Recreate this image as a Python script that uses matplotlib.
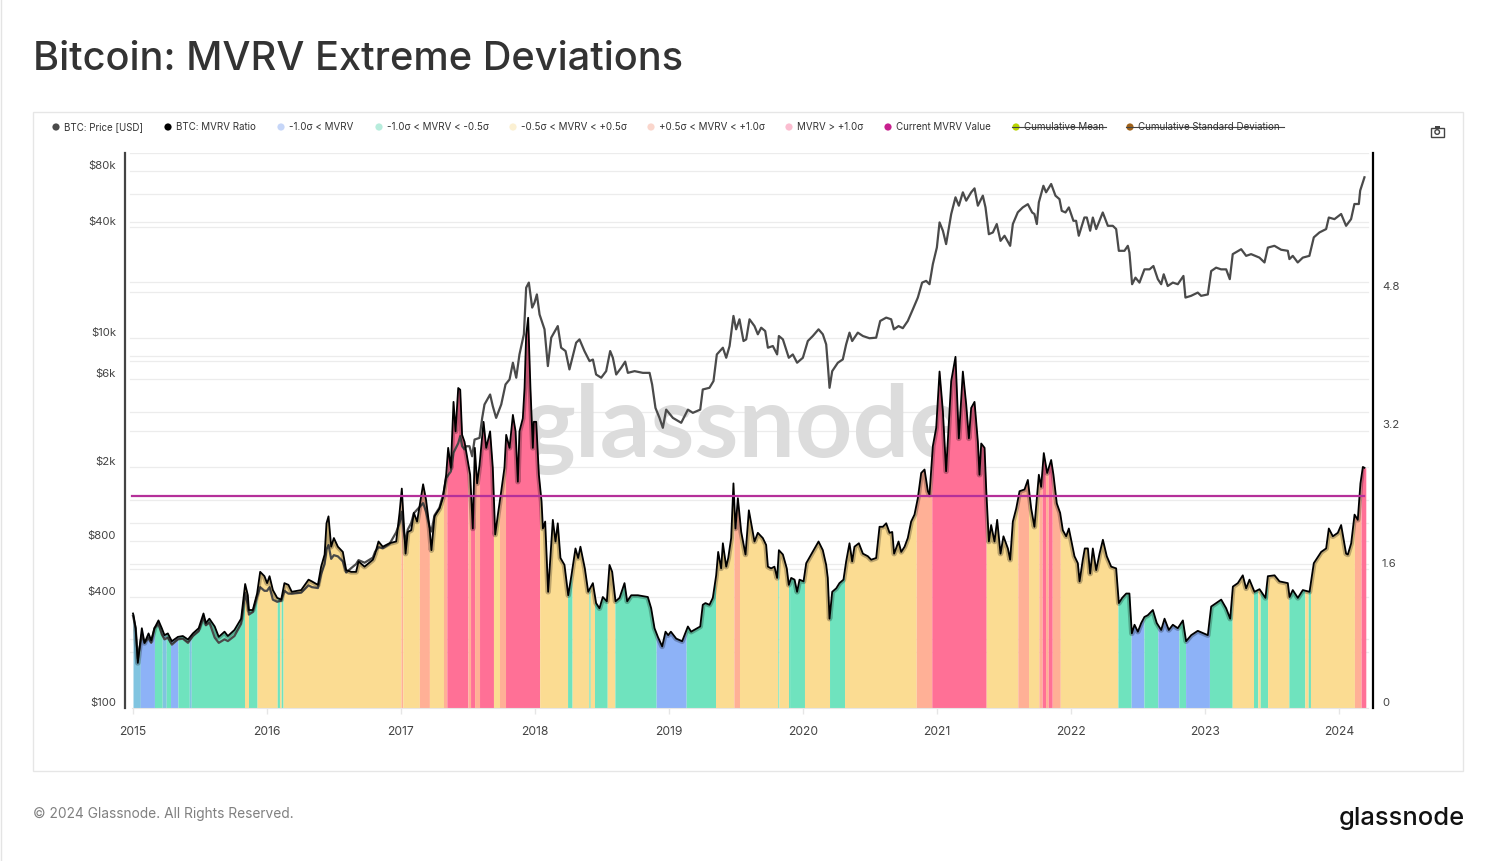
import numpy as np
import matplotlib
matplotlib.use('Agg')
import matplotlib.pyplot as plt
from matplotlib.patches import Rectangle, Circle, Polygon

plt.rcParams['font.family'] = ['Inter', 'DejaVu Sans']

W, H = 1495, 861

# MVRV ratio (decimal year, value)
mvrv_t = [2015.0, 2015.004, 2015.02, 2015.036, 2015.066, 2015.086, 2015.116, 2015.136, 2015.16, 2015.19, 2015.215, 2015.235, 2015.26, 2015.29, 2015.335, 2015.372, 2015.41, 2015.447, 2015.49, 2015.526, 2015.544, 2015.57, 2015.61, 2015.64, 2015.683, 2015.708, 2015.757, 2015.807, 2015.837, 2015.857, 2015.865, 2015.894, 2015.926, 2015.949, 2015.981, 2016.001, 2016.019, 2016.044, 2016.076, 2016.106, 2016.13, 2016.16, 2016.185, 2016.255, 2016.31, 2016.335, 2016.38, 2016.404, 2016.43, 2016.444, 2016.459, 2016.479, 2016.499, 2016.529, 2016.566, 2016.591, 2016.628, 2016.665, 2016.683, 2016.728, 2016.79, 2016.807, 2016.832, 2016.864, 2016.914, 2016.964, 2016.989, 2017.006, 2017.021, 2017.034, 2017.05, 2017.076, 2017.096, 2017.12, 2017.165, 2017.187, 2017.212, 2017.227, 2017.25, 2017.287,
          2017.312, 2017.337, 2017.352, 2017.372, 2017.392, 2017.407, 2017.427, 2017.442, 2017.456, 2017.474, 2017.499, 2017.516, 2017.536, 2017.551, 2017.568, 2017.586, 2017.616, 2017.636, 2017.665, 2017.685, 2017.703, 2017.723, 2017.748, 2017.772, 2017.785, 2017.81, 2017.835, 2017.855, 2017.872, 2017.884, 2017.909, 2017.922, 2017.934, 2017.949, 2017.966, 2017.984, 2017.991, 2018.009, 2018.029, 2018.049, 2018.059, 2018.076, 2018.098, 2018.113, 2018.133, 2018.153, 2018.17, 2018.19, 2018.22, 2018.248, 2018.272, 2018.302, 2018.322, 2018.339, 2018.372, 2018.397, 2018.432, 2018.456, 2018.481, 2018.506, 2018.536, 2018.556, 2018.576, 2018.601, 2018.631, 2018.668, 2018.688, 2018.718, 2018.768, 2018.842, 2018.867, 2018.892, 2018.917, 2018.949, 2018.974, 2018.994, 2019.014, 2019.054, 2019.098, 2019.141, 2019.165, 2019.233, 2019.252, 2019.272, 2019.302, 2019.327, 2019.352, 2019.367, 2019.389, 2019.402, 2019.427, 2019.442, 2019.464, 2019.481, 2019.496, 2019.514, 2019.539, 2019.571, 2019.596,
          2019.626, 2019.638, 2019.663, 2019.7, 2019.725, 2019.738, 2019.762, 2019.787, 2019.807, 2019.82, 2019.85, 2019.879, 2019.894, 2019.912, 2019.937, 2019.956, 2019.974, 2020.004, 2020.024, 2020.061, 2020.086, 2020.116, 2020.148, 2020.173, 2020.185, 2020.198, 2020.218, 2020.248, 2020.272, 2020.302, 2020.322, 2020.347, 2020.367, 2020.384, 2020.417, 2020.447, 2020.484, 2020.509, 2020.546, 2020.571, 2020.596, 2020.621, 2020.646, 2020.666, 2020.68, 2020.713, 2020.733, 2020.758, 2020.782, 2020.807, 2020.832, 2020.857, 2020.882, 2020.907, 2020.932, 2020.944, 2020.969, 2020.994, 2021.019, 2021.044, 2021.068, 2021.106, 2021.138, 2021.163, 2021.193, 2021.218, 2021.238, 2021.255, 2021.28, 2021.305, 2021.317, 2021.33, 2021.355, 2021.367, 2021.387, 2021.404, 2021.429, 2021.449, 2021.474, 2021.496, 2021.529, 2021.546, 2021.566, 2021.591, 2021.616, 2021.653, 2021.678, 2021.703, 2021.727, 2021.76,
          2021.777, 2021.797, 2021.822, 2021.852, 2021.869, 2021.894, 2021.919, 2021.939, 2021.964, 2021.984, 2022.004, 2022.026, 2022.051, 2022.064, 2022.088, 2022.103, 2022.126, 2022.143, 2022.163, 2022.188, 2022.213, 2022.238, 2022.267, 2022.3, 2022.337, 2022.357, 2022.382, 2022.412, 2022.436, 2022.454, 2022.474, 2022.499, 2022.524, 2022.548, 2022.573, 2022.611, 2022.64, 2022.673, 2022.698, 2022.73, 2022.76, 2022.797, 2022.835, 2022.859, 2022.897, 2022.946, 2023.021, 2023.046, 2023.083, 2023.121, 2023.158, 2023.188, 2023.208, 2023.245, 2023.282, 2023.307, 2023.332, 2023.369, 2023.407, 2023.451, 2023.469, 2023.519, 2023.556, 2023.618, 2023.631, 2023.655, 2023.693, 2023.73, 2023.78, 2023.812, 2023.867, 2023.904, 2023.924, 2023.954, 2023.991, 2024.016, 2024.053, 2024.066, 2024.091, 2024.116, 2024.14, 2024.16, 2024.178, 2024.19]
mvrv_v = [1.09, 1.07, 0.92, 0.52, 0.92, 0.75, 0.86, 0.78, 0.92, 1.01, 0.92, 0.84, 0.86, 0.77, 0.82, 0.83, 0.79, 0.86, 0.92, 1.09, 0.98, 1.03, 0.94, 0.82, 0.88, 0.83, 0.90, 1.03, 1.43, 1.30, 1.13, 1.13, 1.32, 1.57, 1.52, 1.44, 1.52, 1.36, 1.27, 1.25, 1.44, 1.42, 1.34, 1.36, 1.48, 1.46, 1.42, 1.63, 1.77, 2.13, 2.21, 1.86, 1.96, 1.86, 1.80, 1.59, 1.57, 1.57, 1.69, 1.63, 1.71, 1.78, 1.92, 1.86, 1.90, 1.92, 2.25, 2.53, 2.13, 1.78, 2.03, 2.05, 2.25, 2.15, 2.58, 2.40, 2.09, 1.82, 2.21, 2.30,
          2.42, 2.69, 3.00, 2.77, 3.53, 3.19, 3.69, 3.67, 3.15, 3.07, 2.84, 2.69, 2.07, 3.00, 2.59, 2.80, 3.30, 3.00, 3.19, 2.77, 2.00, 2.23, 2.50, 2.77, 3.15, 3.00, 3.38, 3.19, 2.61, 3.19, 3.34, 3.69, 4.30, 4.50, 3.69, 3.00, 3.30, 3.30, 2.69, 2.38, 2.07, 2.15, 1.34, 1.69, 2.17, 1.92, 2.13, 1.73, 1.65, 1.30, 1.53, 1.84, 1.73, 1.86, 1.61, 1.34, 1.44, 1.21, 1.15, 1.28, 1.23, 1.65, 1.57, 1.23, 1.27, 1.44, 1.23, 1.30, 1.30, 1.28, 1.15, 0.92, 0.82, 0.71, 0.88, 0.84, 0.88, 0.80, 0.77, 0.94, 0.88, 0.94, 1.19, 1.21, 1.19, 1.27, 1.53, 1.80, 1.61, 1.90, 1.63, 1.73, 1.96, 2.59, 2.07, 2.42, 2.03, 1.77, 2.28,
          2.02, 1.92, 2.02, 1.96, 1.88, 1.63, 1.61, 1.63, 1.50, 1.82, 1.77, 1.61, 1.42, 1.50, 1.48, 1.34, 1.48, 1.46, 1.67, 1.77, 1.84, 1.92, 1.82, 1.65, 1.50, 1.03, 1.34, 1.38, 1.44, 1.48, 1.69, 1.90, 1.69, 1.86, 1.90, 1.78, 1.75, 1.71, 1.73, 2.09, 2.09, 2.13, 2.02, 2.03, 1.78, 1.92, 1.80, 1.86, 1.96, 2.15, 2.23, 2.42, 2.71, 2.75, 2.50, 2.46, 3.02, 3.23, 3.88, 3.42, 2.73, 3.77, 4.05, 3.11, 3.88, 3.50, 3.11, 3.46, 3.53, 3.07, 2.69, 3.05, 3.00, 2.53, 1.92, 2.11, 1.92, 2.17, 1.78, 1.98, 1.84, 1.71, 2.15, 2.30, 2.50, 2.52, 2.63, 2.30, 2.09, 2.69,
          2.55, 2.94, 2.71, 2.86, 2.69, 2.36, 2.25, 2.05, 1.98, 2.07, 1.92, 1.75, 1.67, 1.46, 1.71, 1.84, 1.84, 1.55, 1.84, 1.59, 1.78, 1.94, 1.75, 1.63, 1.61, 1.21, 1.27, 1.32, 1.32, 0.86, 0.96, 0.88, 0.98, 1.05, 1.07, 1.13, 0.98, 0.90, 1.03, 0.90, 0.96, 0.92, 1.01, 0.77, 0.84, 0.89, 0.84, 1.17, 1.21, 1.25, 1.15, 1.03, 1.40, 1.44, 1.53, 1.38, 1.48, 1.34, 1.37, 1.27, 1.52, 1.53, 1.46, 1.44, 1.28, 1.36, 1.27, 1.36, 1.34, 1.67, 1.80, 1.84, 2.07, 1.98, 2.02, 2.11, 1.78, 1.77, 1.90, 2.23, 2.17, 2.59, 2.78, 2.77]

# BTC price in USD
price_t = [2015.0, 2015.02, 2015.036, 2015.066, 2015.086, 2015.116, 2015.136, 2015.16, 2015.19, 2015.215, 2015.235, 2015.26, 2015.29, 2015.335, 2015.372, 2015.41, 2015.447, 2015.49, 2015.526, 2015.544, 2015.57, 2015.61, 2015.64, 2015.683, 2015.708, 2015.757, 2015.807, 2015.837, 2015.857, 2015.865, 2015.894, 2015.926, 2015.949, 2015.981, 2016.0, 2016.019, 2016.044, 2016.076, 2016.106, 2016.13, 2016.16, 2016.185, 2016.255, 2016.31, 2016.335, 2016.38, 2016.404, 2016.43, 2016.444, 2016.459, 2016.479, 2016.499, 2016.529, 2016.566, 2016.591, 2016.628, 2016.665, 2016.683, 2016.728, 2016.79, 2016.807, 2016.832, 2016.864, 2016.914, 2016.964, 2016.989, 2017.006, 2017.021, 2017.034, 2017.05, 2017.076, 2017.096, 2017.12, 2017.165, 2017.187, 2017.212, 2017.227, 2017.25, 2017.287, 2017.317, 2017.337, 2017.372, 2017.392, 2017.427, 2017.442, 2017.456, 2017.474,
           2017.486, 2017.511, 2017.531, 2017.549, 2017.586, 2017.606, 2017.623, 2017.665, 2017.685, 2017.71, 2017.748, 2017.78, 2017.81, 2017.835, 2017.86, 2017.884, 2017.917, 2017.934, 2017.954, 2017.979, 2017.996, 2018.014, 2018.034, 2018.071, 2018.096, 2018.121, 2018.17, 2018.195, 2018.228, 2018.257, 2018.307, 2018.332, 2018.369, 2018.407, 2018.432, 2018.456, 2018.494, 2018.531, 2018.561, 2018.581, 2018.606, 2018.643, 2018.673, 2018.693, 2018.743, 2018.805, 2018.855, 2018.874, 2018.899, 2018.929, 2018.954, 2018.979, 2019.029, 2019.091, 2019.141, 2019.178, 2019.233, 2019.252, 2019.302, 2019.332, 2019.357, 2019.402, 2019.427, 2019.452, 2019.481, 2019.501, 2019.526, 2019.556, 2019.576,
           2019.601, 2019.638, 2019.663, 2019.688, 2019.718, 2019.738, 2019.775, 2019.807, 2019.82, 2019.85, 2019.894, 2019.924, 2019.956, 2019.999, 2020.036, 2020.073, 2020.116, 2020.148, 2020.173, 2020.185, 2020.198, 2020.218, 2020.26, 2020.297, 2020.322, 2020.347, 2020.367, 2020.409, 2020.447, 2020.496, 2020.546, 2020.576, 2020.621, 2020.658, 2020.678, 2020.713, 2020.745, 2020.782, 2020.82, 2020.857, 2020.889, 2020.919, 2020.944, 2020.969, 2020.999, 2021.019, 2021.044, 2021.068, 2021.106, 2021.138, 2021.163, 2021.193, 2021.218, 2021.255, 2021.28, 2021.305, 2021.342, 2021.362, 2021.387, 2021.417, 2021.446, 2021.474, 2021.504, 2021.546, 2021.566, 2021.603, 2021.64, 2021.678, 2021.71, 2021.727, 2021.745,
           2021.76, 2021.794, 2021.814, 2021.852, 2021.884, 2021.914, 2021.931, 2021.959, 2021.984, 2022.018, 2022.038, 2022.058, 2022.1, 2022.118, 2022.143, 2022.163, 2022.188, 2022.237, 2022.275, 2022.312, 2022.337, 2022.357, 2022.399, 2022.424, 2022.436, 2022.456, 2022.481, 2022.511, 2022.548, 2022.586, 2022.615, 2022.648, 2022.673, 2022.692, 2022.722, 2022.76, 2022.797, 2022.839, 2022.854, 2022.896, 2022.946, 2022.971, 2023.021, 2023.046, 2023.083, 2023.12, 2023.158, 2023.185, 2023.207, 2023.27, 2023.307, 2023.344, 2023.406, 2023.444, 2023.469, 2023.518, 2023.568, 2023.618, 2023.63, 2023.655, 2023.692, 2023.73, 2023.779, 2023.812, 2023.854, 2023.904, 2023.924, 2023.966, 2024.016, 2024.053, 2024.09, 2024.115, 2024.148, 2024.158, 2024.178, 2024.19]
price_v = [315, 270, 185, 250, 225, 240, 225, 270, 285, 250, 235, 240, 220, 235, 237, 225, 245, 260, 310, 280, 290, 240, 225, 235, 230, 245, 285, 420, 360, 320, 330, 400, 450, 430, 430, 450, 385, 375, 380, 430, 415, 415, 420, 460, 450, 445, 530, 600, 720, 760, 640, 670, 660, 620, 540, 570, 600, 630, 610, 650, 700, 740, 730, 770, 890, 1000, 1150, 900, 780, 920, 1000, 1130, 1180, 1280, 1150, 960, 900, 1100, 1210, 1450, 1750, 1900, 2400, 2700, 2950, 2600, 2500,
           2600, 2600, 2295, 2825, 2885, 3700, 4370, 4950, 4280, 3700, 4370, 5610, 5970, 7350, 6100, 8150, 10470, 18700, 19930, 14600, 15500, 17200, 13400, 11140, 7050, 10040, 11600, 8860, 8500, 6760, 9430, 9830, 8500, 7500, 7650, 6350, 6100, 6620, 8500, 7820, 6350, 6900, 7450, 6480, 6620, 6480, 6480, 5610, 4190, 3700, 3270, 4100, 3700, 3480, 4100, 3940, 4100, 5270, 5380, 5850, 8150, 8860, 7820, 9050, 13160, 11140, 12620, 9630, 9830,
           12620, 11600, 10470, 11370, 10900, 8860, 9050, 8150, 10250, 9830, 7820, 8150, 7350, 7820, 9630, 10250, 11140, 10470, 9240, 7200, 5380, 6620, 7350, 7660, 9240, 10690, 9630, 10690, 10250, 9970, 10040, 12360, 12890, 12620, 11140, 11600, 11300, 12360, 14300, 16540, 19930, 20360, 19530, 25070, 30860, 42150, 38000, 32180, 46790, 57600, 51900, 61300, 55260, 61300, 64400, 51900, 58800, 50800, 36400, 37200, 41300, 33500, 35700, 31500, 41300, 47800, 50800, 52900, 47700, 46790, 41300,
           54100, 66500, 61300, 68000, 58800, 56300, 48700, 47700, 50800, 43000, 43000, 35700, 44800, 44800, 38000, 44800, 38800, 47700, 40400, 40400, 38800, 29600, 29600, 31500, 29000, 19530, 21200, 19930, 23500, 23500, 24500, 20800, 19530, 22100, 19100, 19930, 19530, 21650, 16540, 16900, 17600, 16900, 17200, 23000, 24000, 23500, 23500, 20800, 28400, 30200, 27800, 28400, 27200, 25600, 30800, 31500, 30000, 29600, 26700, 27800, 25600, 27200, 27800, 35000, 37200, 38800, 44800, 43900, 46800, 40400, 43900, 53000, 53000, 62600, 69400, 73900]

# colour bands under the MVRV line: where each one starts and what it is
band_start = [2015.0, 2015.055, 2015.16, 2015.218, 2015.248, 2015.28, 2015.335, 2015.42, 2015.435, 2015.832, 2015.862, 2015.926, 2016.076, 2016.093, 2016.106, 2016.12, 2017.0, 2017.013, 2017.137, 2017.212, 2017.317, 2017.342, 2017.499, 2017.519, 2017.549, 2017.586, 2017.69, 2017.735, 2017.78, 2018.035, 2018.243, 2018.277, 2018.402, 2018.412, 2018.444, 2018.539, 2018.596, 2018.904, 2019.128, 2019.347, 2019.484, 2019.526, 2019.812, 2019.82, 2019.892, 2019.906, 2020.011, 2020.198, 2020.31, 2020.845, 2020.961, 2021.367, 2021.603, 2021.683, 2021.76, 2021.785, 2021.81, 2021.83, 2021.86, 2021.92, 2022.35, 2022.449, 2022.544, 2022.648, 2022.805, 2022.855, 2023.033, 2023.203, 2023.362, 2023.394, 2023.412, 2023.467, 2023.626, 2023.745, 2023.77, 2023.787, 2024.115, 2024.165]
band_kind = ['sky', 'blue', 'teal', 'sky', 'teal', 'blue', 'teal', 'sky', 'teal', 'yellow', 'teal', 'yellow', 'teal', 'yellow', 'teal', 'yellow', 'orange', 'yellow', 'orange', 'yellow', 'orange', 'pink', 'orange', 'pink', 'orange', 'pink', 'yellow', 'orange', 'pink', 'yellow', 'teal', 'yellow', 'teal', 'yellow', 'teal', 'yellow', 'teal', 'blue', 'teal', 'yellow', 'orange', 'yellow', 'teal', 'yellow', 'teal', 'teal', 'yellow', 'teal', 'yellow', 'orange', 'pink', 'yellow', 'orange', 'yellow', 'orange', 'pink', 'orange', 'pink', 'orange', 'yellow', 'teal', 'blue', 'teal', 'blue', 'teal', 'blue', 'teal', 'yellow', 'teal', 'yellow', 'teal', 'yellow', 'teal', 'yellow', 'teal', 'yellow', 'orange', 'pink']
band_colors = {'sky': '#80C4E0', 'blue': '#8DB2F7', 'teal': '#6FE3BE', 'yellow': '#FBDC92', 'orange': '#FFB096', 'pink': '#FF7096'}

current_mvrv = 2.445
end_year = 2024.2

year_ticks = [2015, 2016, 2017, 2018, 2019, 2020, 2021, 2022, 2023, 2024]
price_labels = {100: '$100', 400: '$400', 800: '$800', 2000: '$2k', 6000: '$6k', 10000: '$10k', 40000: '$40k', 80000: '$80k'}
price_grid = [200, 400, 600, 800, 1000, 2000, 4000, 6000, 8000, 10000, 20000, 40000, 60000, 80000]
mvrv_labels = {0: '0', 1.6: '1.6', 3.2: '3.2', 4.8: '4.8'}
mvrv_grid = [0.8, 1.6, 2.4, 3.2, 4.0, 4.8, 5.6, 6.4]

legend_items = [('BTC: Price [USD]', '#4a4a4a', 56), ('BTC: MVRV Ratio', '#000000', 168),
                ('-1.0σ < MVRV', '#C6D6F8', 281), ('-1.0σ < MVRV < -0.5σ', '#B7ECDC', 379),
                ('-0.5σ < MVRV < +0.5σ', '#FBF0D2', 513), ('+0.5σ < MVRV < +1.0σ', '#FAD6CC', 651),
                ('MVRV > +1.0σ', '#FBBDD0', 789), ('Current MVRV Value', '#C71F8E', 888),
                ('Cumulative Mean', '#B8D400', 1016), ('Cumulative Standard Deviation', '#A0621A', 1130)]


def fx(x):
    return x / W


def fy(y):
    return 1 - y / H


fig = plt.figure(figsize=(W / 100, H / 100), dpi=100, facecolor='white')
page = fig.add_axes([0, 0, 1, 1])
page.set_xlim(0, W)
page.set_ylim(H, 0)
page.axis('off')

page.plot([0.5, 0.5], [0, H], color='#e4e4e4', lw=1)
page.add_patch(Rectangle((33, 112), 1430, 659, fc='none', ec='#e6e6e6', lw=1))
page.text(33, 56, 'Bitcoin: MVRV Extreme Deviations', fontsize=28.6, fontweight='medium', color='#333333', va='center_baseline')
page.text(33, 812.5, '© 2024 Glassnode. All Rights Reserved.', fontsize=9.9, color='#808080', va='center_baseline')
page.text(1464.5, 816, 'glassnode', fontsize=18.4, fontweight='medium', color='#111111', va='center_baseline', ha='right')

for name, col, xd in legend_items:
    page.add_patch(Circle((xd, 127), 3.6, fc=col, ec='none'))
    page.text(xd + 8, 130.5, name, fontsize=7.0, color='#333333', va='baseline')
    if name.startswith('Cumulative'):
        wd = {'Cumulative Mean': 94, 'Cumulative Standard Deviation': 158}[name]
        page.plot([xd - 4, xd - 4 + wd], [127, 127], color='#444444', lw=0.8)

# camera icon
page.add_patch(Rectangle((1431, 127.5), 12.5, 9, fc='none', ec='#444444', lw=1))
page.add_patch(Rectangle((1434.5, 126), 5, 1.5, fc='#444444', ec='none'))
page.add_patch(Circle((1437.2, 132), 2.3, fc='none', ec='#444444', lw=1))

pos = [fx(125), fy(708), (1373 - 125) / W, (708 - 153) / H]
xlim = (2015 + (125 - 133) / 134, 2015 + (1373 - 133) / 134)

# back layer: grid, watermark, bands
ax_back = fig.add_axes(pos, facecolor='none')
ax_back.set_xlim(xlim)
ax_back.set_ylim(0, 6.4)
trans = ax_back.get_yaxis_transform()
for v in mvrv_grid:
    ax_back.plot([0.004, 0.996], [v, v], transform=trans, color='#ececec', lw=0.9, zorder=1)
# same log scale as the price axis: 100 to 100000 over the axis height
for v in price_grid:
    ax_back.plot([0.004, 0.996], [6.4 * np.log10(v / 100) / 3] * 2, transform=trans, color='#ececec', lw=0.9, zorder=1)
ax_back.text(0.495, 0.452, 'glassnode', transform=ax_back.transAxes, fontsize=72, family='Lato', fontweight='bold', color='#dcdcdc', ha='center', va='baseline', zorder=1.5)

mvrv_t = np.array(mvrv_t)
mvrv_v = np.array(mvrv_v)
band_end = band_start[1:] + [end_year]
for s, e, kind in zip(band_start, band_end, band_kind):
    inside = (mvrv_t > s) & (mvrv_t < e)
    xs = np.concatenate([[s], mvrv_t[inside], [e]])
    ys = np.interp(xs, mvrv_t, mvrv_v)
    ax_back.fill_between(xs, 0, ys, color=band_colors[kind], lw=0, zorder=2)

ax_back.set_xticks(year_ticks)
ax_back.set_xticklabels([str(y) for y in year_ticks], fontsize=8.7, color='#444444')
ax_back.tick_params(axis='x', length=4, color='#e6e6e6', width=1, pad=9)
ax_back.set_yticks([])
for s in ['top', 'right', 'left']:
    ax_back.spines[s].set_visible(False)
ax_back.spines['bottom'].set_color('#e6e6e6')
ax_back.spines['bottom'].set_bounds(2015 - 0.01, 2024.22)

# price on its own log scale
ax_price = fig.add_axes(pos, facecolor='none')
ax_price.set_xlim(xlim)
ax_price.set_yscale('log', base=2)
ax_price.set_ylim(100, 100000)
trans_p = ax_price.get_yaxis_transform()
ax_price.set_zorder(ax_back.get_zorder() + 1)
ax_price.plot(price_t, price_v, color='#4a4a4a', lw=1.6, zorder=3)
ax_price.set_xticks([])
ax_price.set_yticks([])
ax_price.minorticks_off()
for s in ['top', 'bottom', 'right']:
    ax_price.spines[s].set_visible(False)
ax_price.spines['left'].set_color('#444444')
ax_price.spines['left'].set_linewidth(1.6)
for v, lab in price_labels.items():
    ax_price.annotate(lab, xy=(0, v), xycoords=trans_p, xytext=(-9, 6), textcoords='offset pixels',
                      ha='right', va='center_baseline', fontsize=8.2, color='#444444')

# MVRV line on top, with a soft dark edge just under it
ax_mvrv = fig.add_axes(pos, facecolor='none')
ax_mvrv.set_xlim(xlim)
ax_mvrv.set_ylim(0, 6.4)
ax_mvrv.set_zorder(ax_price.get_zorder() + 1)
shade, = ax_mvrv.plot(mvrv_t, mvrv_v, color='#000000', lw=4, alpha=0.25, zorder=3)
under = Polygon(np.column_stack([np.r_[mvrv_t[0], mvrv_t, mvrv_t[-1]], np.r_[0, mvrv_v, 0]]), transform=ax_mvrv.transData)
shade.set_clip_path(under)
ax_mvrv.plot(mvrv_t, mvrv_v, color='#000000', lw=1.3, zorder=4)
ax_mvrv.plot([2015 - 0.005, end_year - 0.01], [current_mvrv, current_mvrv], color='#B5309A', lw=1.6, zorder=5)
ax_mvrv.set_xticks([])
ax_mvrv.set_yticks([])
for s in ['top', 'bottom', 'left']:
    ax_mvrv.spines[s].set_visible(False)
ax_mvrv.spines['right'].set_color('#000000')
ax_mvrv.spines['right'].set_linewidth(1.6)
trans_m = ax_mvrv.get_yaxis_transform()
for v, lab in mvrv_labels.items():
    ax_mvrv.annotate(lab, xy=(1, v), xycoords=trans_m, xytext=(9, 6), textcoords='offset pixels',
                     ha='left', va='center_baseline', fontsize=8.2, color='#444444')

fig.savefig('out.png', dpi=100)
